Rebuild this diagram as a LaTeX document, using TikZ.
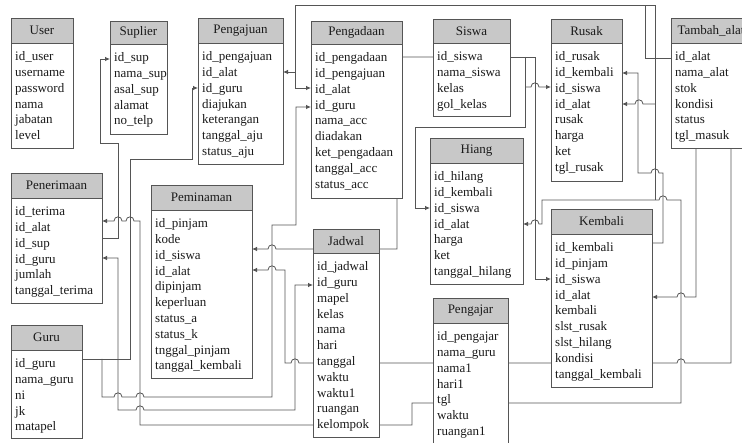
\documentclass[tikz,border=0pt]{standalone}
\usepackage{fontspec}
\setmainfont{Liberation Serif}
\usetikzlibrary{arrows.meta}
\definecolor{linec}{HTML}{555555}
\definecolor{boxc}{HTML}{555555}
\definecolor{hdrc}{HTML}{C8C8C8}
\definecolor{txtc}{HTML}{1A1A1A}
\tikzset{
  >={Latex[length=5pt,width=4.5pt]},
  ebody/.style={rectangle, draw=boxc, fill=white, line width=0.8pt, inner sep=0pt, outer sep=0pt},
  ehead/.style={rectangle, draw=boxc, fill=hdrc, line width=0.8pt, inner sep=0pt, outer sep=0pt,
    font=\fontsize{13}{15.8}\selectfont, text=txtc},
  erows/.style={inner sep=0pt, align=left, font=\fontsize{13}{15.8}\selectfont, text=txtc},
  conn/.style={draw=linec, line width=0.8pt}
}
% name, x1, y1, x2, y title bottom, y2, title, rows
\newcommand\erbox[8]{%
  \node[ebody, anchor=north west, minimum width={#4pt-#2pt}, minimum height={#6pt-#3pt}] (#1B) at (#2,#3) {};
  \node[ehead, anchor=north west, minimum width={#4pt-#2pt}, minimum height={#5pt-#3pt}] (#1H) at (#2,#3) {#7};
  \node[erows, anchor=north west] (#1R) at (#2+4,#5+7.5) {\rule{0pt}{10pt}#8};
}
\begin{document}
\begin{tikzpicture}[x=1pt,y=-1pt]
\useasboundingbox (0,0) rectangle (742,443);
\clip (0,0) rectangle (742,443);
\fill[white] (0,0) rectangle (742,443);

% ---------- boxes (named nodes first so connectors can refer to them) ----------
\begin{scope}[opacity=0]
\erbox{user}{11}{18}{73}{43}{148}{User}{}
\erbox{sup}{110}{21}{167}{44}{134}{Suplier}{}
\erbox{pj}{198}{18}{283}{43}{164}{Pengajuan}{}
\erbox{pd}{311}{21}{402}{44}{198}{Pengadaan}{}
\erbox{siswa}{433}{19}{510}{43}{116}{Siswa}{}
\erbox{rusak}{551}{19}{622}{43}{181}{Rusak}{}
\erbox{ta}{671}{18}{751}{43}{148}{Tambah\_alat}{}
\erbox{pen}{11}{173}{102}{198}{303}{Penerimaan}{}
\erbox{guru}{11}{325}{82}{350}{438}{Guru}{}
\erbox{pemin}{151}{185}{252}{210}{378}{Peminaman}{}
\erbox{jadwal}{313}{229}{379}{253}{437}{Jadwal}{}
\erbox{hiang}{430}{138}{523}{163}{284}{Hiang}{}
\erbox{pgj}{433}{298}{508}{323}{460}{Pengajar}{}
\erbox{kembali}{551}{209}{652}{234}{387}{Kembali}{}
\end{scope}

% ---------- connectors ----------
% Penerimaan.id_sup -> Suplier.id_sup
\draw[conn,->] (penB.east |- 0,238) -- (118,238) -- (118,143) -- (100,143) -- (100,59) -- (supB.west |- 0,59);
% Guru.id_guru -> Pengajuan.id_guru
\draw[conn,->] (guruB.east |- 0,359) -- (130,359) -- (130,159) -- (192,159) -- (192,88) -- (pjB.west |- 0,88);
% Guru.id_guru -> Pengadaan.id_guru
\draw[conn,->] (102,359) -- (102,397) -- (114,397) .. controls (114,391.5) and (122,391.5) .. (122,397)
  -- (136,397) .. controls (136,391.5) and (144,391.5) .. (144,397) -- (272,397) -- (272,225) -- (296,225)
  -- (296,107) -- (pdB.west |- 0,107);
% Tambah_alat.id_alat -> Pengajuan.id_alat / Pengadaan.id_alat
\draw[conn,->] (taB.west |- 0,58) -- (645,58) -- (645,5) -- (295,5) -- (295,72) -- (pjB.east |- 0,72);
\draw[conn,->] (295,72) -- (295,88) -- (pdB.west |- 0,88);
% -> Rusak.id_alat
\draw[conn] (645,5) -- (655,5) -- (655,200);
\draw[conn,->] (655,104) -- (643,104) .. controls (643,98.5) and (635,98.5) .. (635,104) -- (rusakB.east |- 0,104);
% Penerimaan.id_alat <-> Jadwal.kelompok <-> Hiang.id_alat
\draw[conn,<->] (penB.east |- 0,221) -- (114,221) .. controls (114,215.5) and (122,215.5) .. (122,221)
  -- (126,221) .. controls (126,215.5) and (134,215.5) .. (134,221) -- (140,221) -- (140,425)
  -- (412,425) -- (412,403) -- (681,403) -- (681,200) -- (667,200) .. controls (667,194.5) and (659,194.5) .. (659,200)
  -- (542,200) -- (542,224) -- (539,224) .. controls (539,218.5) and (531,218.5) .. (531,224) -- (hiangB.east |- 0,224);
% Kembali.id_kembali -> Rusak.id_kembali
\draw[conn,->] (kembaliB.east |- 0,243) -- (663,243) -- (663,173) -- (659,173) .. controls (659,167.5) and (651,167.5) .. (651,173)
  -- (638,173) -- (638,73) -- (rusakB.east |- 0,73);
% Tambah_alat -> Kembali.id_alat
\draw[conn,->] (696,148) -- (696,297) -- (685,297) .. controls (685,291.5) and (677,291.5) .. (677,297) -- (kembaliB.east |- 0,297);
% Tambah_alat -> Peminaman.id_alat (through Jadwal.tanggal, Pengajar.nama1, Kembali.kondisi)
\draw[conn,->] (731,148) -- (731,363) -- (685,363) .. controls (685,357.5) and (677,357.5) .. (677,363)
  -- (299,363) .. controls (299,357.5) and (291,357.5) .. (291,363) -- (285,363) -- (285,270)
  -- (276,270) .. controls (276,264.5) and (268,264.5) .. (268,270) -- (peminB.east |- 0,270);
% Siswa.id_siswa -> Kembali / Hiang / Rusak / Peminaman
\draw[conn,->] (siswaB.east |- 0,57) -- (535,57) -- (535,279) -- (kembaliB.west |- 0,279);
\draw[conn,->] (525,57) -- (525,127) -- (415,127) -- (415,208) -- (hiangB.west |- 0,208);
\draw[conn,->] (525,87) -- (531,87) .. controls (531,81.5) and (539,81.5) .. (539,87) -- (rusakB.west |- 0,87);
\draw[conn,->] (siswaB.west |- 0,57) -- (397,57) -- (397,249) -- (276,249) .. controls (276,243.5) and (268,243.5) .. (268,249) -- (peminB.east |- 0,249);
% Penerimaan.id_guru <-> Jadwal.id_guru
\draw[conn,<->] (penB.east |- 0,258) -- (118,258) -- (118,410) -- (136,410) .. controls (136,404.5) and (144,404.5) .. (144,410)
  -- (295,410) -- (295,285) -- (jadwalB.west |- 0,285);

% ---------- boxes drawn on top ----------
\erbox{user}{11}{18}{73}{43}{148}{User}{id\_user\\username\\password\\nama\\jabatan\\level}
\erbox{sup}{110}{21}{167}{44}{134}{Suplier}{id\_sup\\nama\_sup\\asal\_sup\\alamat\\no\_telp}
\erbox{pj}{198}{18}{283}{43}{164}{Pengajuan}{id\_pengajuan\\id\_alat\\id\_guru\\diajukan\\keterangan\\tanggal\_aju\\status\_aju}
\erbox{pd}{311}{21}{402}{44}{198}{Pengadaan}{id\_pengadaan\\id\_pengajuan\\id\_alat\\id\_guru\\nama\_acc\\diadakan\\ket\_pengadaan\\tanggal\_acc\\status\_acc}
\erbox{siswa}{433}{19}{510}{43}{116}{Siswa}{id\_siswa\\nama\_siswa\\kelas\\gol\_kelas}
\erbox{rusak}{551}{19}{622}{43}{181}{Rusak}{id\_rusak\\id\_kembali\\id\_siswa\\id\_alat\\rusak\\harga\\ket\\tgl\_rusak}
\erbox{ta}{671}{18}{751}{43}{148}{Tambah\_alat}{id\_alat\\nama\_alat\\stok\\kondisi\\status\\tgl\_masuk}
\erbox{pen}{11}{173}{102}{198}{303}{Penerimaan}{id\_terima\\id\_alat\\id\_sup\\id\_guru\\jumlah\\tanggal\_terima}
\erbox{guru}{11}{325}{82}{350}{438}{Guru}{id\_guru\\nama\_guru\\ni\\jk\\matapel}
\erbox{pemin}{151}{185}{252}{210}{378}{Peminaman}{id\_pinjam\\kode\\id\_siswa\\id\_alat\\dipinjam\\keperluan\\status\_a\\status\_k\\tnggal\_pinjam\\tanggal\_kembali}
\erbox{jadwal}{313}{229}{379}{253}{437}{Jadwal}{id\_jadwal\\id\_guru\\mapel\\kelas\\nama\\hari\\tanggal\\waktu\\waktu1\\ruangan\\kelompok}
\erbox{hiang}{430}{138}{523}{163}{284}{Hiang}{id\_hilang\\id\_kembali\\id\_siswa\\id\_alat\\harga\\ket\\tanggal\_hilang}
\erbox{pgj}{433}{298}{508}{323}{460}{Pengajar}{id\_pengajar\\nama\_guru\\nama1\\hari1\\tgl\\waktu\\ruangan1}
\erbox{kembali}{551}{209}{652}{234}{387}{Kembali}{id\_kembali\\id\_pinjam\\id\_siswa\\id\_alat\\kembali\\slst\_rusak\\slst\_hilang\\kondisi\\tanggal\_kembali}
\end{tikzpicture}
\end{document}
